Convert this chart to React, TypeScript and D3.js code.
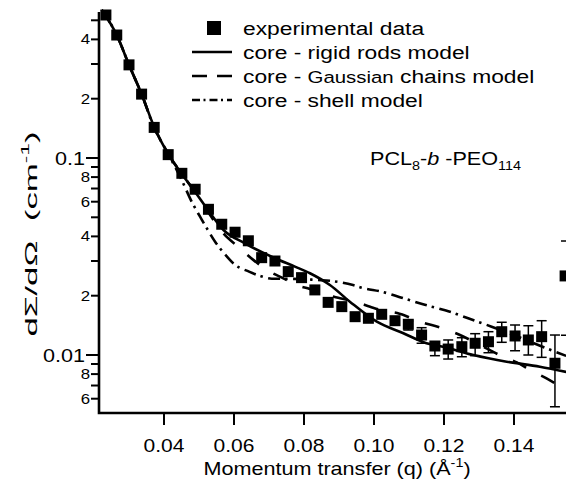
import React from "react";
import * as d3 from "d3";

// ---------- data ----------
const qData = [
  0.0234, 0.0265, 0.03, 0.0336, 0.0372, 0.0412, 0.0451, 0.0489, 0.0527, 0.0565,
  0.0603, 0.0641, 0.0679, 0.0717, 0.0755, 0.0793, 0.0831, 0.0869, 0.0908, 0.0946,
  0.0984, 0.1022, 0.106, 0.1098, 0.1136, 0.1174, 0.1212, 0.1251, 0.1289, 0.1327,
  0.1365, 0.1403, 0.1441, 0.1479, 0.1517,
];
const iData = [
  0.532, 0.421, 0.297, 0.211, 0.143, 0.104, 0.0836, 0.0694, 0.0549, 0.0461,
  0.042, 0.038, 0.0312, 0.03, 0.0265, 0.0247, 0.0214, 0.0185, 0.0176, 0.01565,
  0.01536, 0.01609, 0.01493, 0.01432, 0.01263, 0.01111, 0.01072, 0.01102, 0.01147, 0.01168,
  0.01313, 0.01249, 0.01192, 0.01239, 0.00908,
];
const errLow: (number | null)[] = [
  null, null, null, null, null, null, null, null, null, null,
  null, null, null, null, null, null, null, null, null, null,
  null, null, null, 0.01339, 0.01147, 0.00992, 0.00954, 0.0098, 0.00992, 0.01027,
  0.0116, 0.01051, 0.01, 0.00973, 0.00546,
];
const errHigh: (number | null)[] = [
  null, null, null, null, null, null, null, null, null, null,
  null, null, null, null, null, null, null, null, null, null,
  null, null, null, 0.01488, 0.01376, 0.0116, 0.01192, 0.01224, 0.01283, 0.01313,
  0.01466, 0.0142, 0.01408, 0.01493, 0.01263,
];

const rodsQ = [
  0.0222, 0.0265, 0.03, 0.0336, 0.0372, 0.0412, 0.0451, 0.0489, 0.0526, 0.057,
  0.0631, 0.0717, 0.0774, 0.0817, 0.0874, 0.0931, 0.1008, 0.1084, 0.115, 0.1197,
  0.1284, 0.1379, 0.1474, 0.1549,
];
const rodsI = [
  0.564, 0.421, 0.297, 0.211, 0.1437, 0.1048, 0.0829, 0.0672, 0.0544, 0.0431,
  0.0369, 0.031, 0.0281, 0.026, 0.02266, 0.01865, 0.01476, 0.01289, 0.01147, 0.011,
  0.01, 0.00925, 0.00872, 0.0082,
];

const gaussQ = [
  0.0222, 0.0265, 0.03, 0.0336, 0.0372, 0.0412, 0.0451, 0.0489, 0.0526, 0.0566,
  0.0617, 0.0655, 0.0703, 0.0741, 0.0779, 0.0817, 0.0865, 0.0903, 0.0951, 0.0989,
  0.1031, 0.1066, 0.1131, 0.1203, 0.1241, 0.1303, 0.1369, 0.1408, 0.1455, 0.1493,
  0.1549,
];
const gaussI = [
  0.564, 0.421, 0.297, 0.211, 0.1437, 0.1048, 0.0829, 0.0672, 0.0532, 0.0421,
  0.0348, 0.0304, 0.02648, 0.02451, 0.02266, 0.02163, 0.02016, 0.01941, 0.01851, 0.01758,
  0.01672, 0.01634, 0.01476, 0.01355, 0.01274, 0.01124, 0.0098, 0.00918, 0.00822, 0.00761,
  0.00657,
];

const shellQ = [
  0.0222, 0.0265, 0.03, 0.0336, 0.0372, 0.0409, 0.0446, 0.0484, 0.0503, 0.0524,
  0.0546, 0.0572, 0.0603, 0.0643, 0.0674, 0.0708, 0.0789, 0.0836, 0.0879, 0.094,
  0.0969, 0.1022, 0.1079, 0.114, 0.1217, 0.1269, 0.1336, 0.1417, 0.1493, 0.1549,
];
const shellI = [
  0.564, 0.421, 0.297, 0.211, 0.142, 0.1073, 0.0804, 0.0577, 0.0504, 0.0435,
  0.0376, 0.0328, 0.0287, 0.0265, 0.0252, 0.0244, 0.0243, 0.02403, 0.02375, 0.02266,
  0.02188, 0.02096, 0.01954, 0.01809, 0.01658, 0.01536, 0.01392, 0.01227, 0.01081, 0.0099,
];

// fragments of the neighbouring (cut-off) panel at the right edge
const neighbourQ = [0.1546];
const neighbourI = [0.0252];
const neighbourTicks = [0.0379, 0.0126];

const xTicks = [0.04, 0.06, 0.08, 0.1, 0.12, 0.14];
const xTickLabels = ["0.04", "0.06", "0.08", "0.10", "0.12", "0.14"];
const yMajorTicks = [0.1, 0.01];
const yMajorLabels = ["0.1", "0.01"];
const yLabeledMinor = [0.4, 0.2, 0.08, 0.06, 0.04, 0.02, 0.008, 0.006];
const yLabeledMinorText = ["4", "2", "8", "6", "4", "2", "8", "6"];
const yMinorTicks = [0.5, 0.3, 0.09, 0.07, 0.05, 0.03, 0.009, 0.007];

// ---------- layout ----------
const W = 566;
const H = 480;
const LEFT = 99;
const TOP = 12;
const BOTTOM = 413;
const RIGHT = 566;
const SX = 1.2;
const FONT = "'Liberation Sans', Arial, Helvetica, sans-serif";

export default function App() {
  const x = d3.scaleLinear().domain([0.04, 0.14]).range([164, 514]);
  const y = d3.scaleLog().domain([0.01, 0.1]).range([355, 158]);

  const mk = (qs: number[], is: number[]) =>
    d3
      .line<number>()
      .x((_, k) => x(qs[k]))
      .y((_, k) => y(is[k]))
      .curve(d3.curveMonotoneX)(qs) || "";

  const rodsPath = mk(rodsQ, rodsI);
  const gaussPath = mk(gaussQ, gaussI);
  const shellPath = mk(shellQ, shellI);

  const sq = 11;
  const legendY = [28, 52, 76, 100];

  return (
    <svg
      width={W}
      height={H}
      style={{ position: "absolute", left: 0, top: 0, background: "#fff" }}
      fontFamily={FONT}
    >
      <defs>
        <clipPath id="plotclip">
          <rect x={LEFT} y={4} width={RIGHT - LEFT} height={BOTTOM - 4} />
        </clipPath>
      </defs>

      {/* curves */}
      <g clipPath="url(#plotclip)" fill="none" stroke="#000" strokeWidth={2.6}>
        <path d={shellPath} strokeDasharray="12 5 2.5 5.5" />
        <path d={gaussPath} strokeDasharray="15 17" />
        <path d={rodsPath} />
      </g>

      {/* error bars */}
      <g stroke="#000" strokeWidth={1.5}>
        {qData.map((q, k) => {
          const lo = errLow[k];
          const hi = errHigh[k];
          if (lo == null || hi == null) return null;
          const cx = x(q);
          return (
            <g key={"e" + k}>
              <line x1={cx} x2={cx} y1={y(lo)} y2={y(hi)} />
              <line x1={cx - 5} x2={cx + 5} y1={y(lo)} y2={y(lo)} />
              <line x1={cx - 5} x2={cx + 5} y1={y(hi)} y2={y(hi)} />
            </g>
          );
        })}
      </g>

      {/* data squares */}
      <g fill="#000">
        {qData.map((q, k) => (
          <rect key={"p" + k} x={x(q) - sq / 2} y={y(iData[k]) - sq / 2} width={sq} height={sq} />
        ))}
        {neighbourQ.map((q, k) => (
          <rect key={"n" + k} x={x(q) - sq / 2} y={y(neighbourI[k]) - sq / 2} width={sq} height={sq} />
        ))}
      </g>
      <g stroke="#000" strokeWidth={1.5}>
        {neighbourTicks.map((t, k) => (
          <line key={"nt" + k} x1={RIGHT - 5} x2={RIGHT} y1={y(t)} y2={y(t)} />
        ))}
      </g>

      {/* axes */}
      <path
        d={`M${LEFT},${TOP} V${BOTTOM} H${RIGHT}`}
        fill="none"
        stroke="#000"
        strokeWidth={2.6}
      />
      <g stroke="#000" strokeWidth={2}>
        {xTicks.map((t, k) => (
          <line key={"xt" + k} x1={x(t)} x2={x(t)} y1={BOTTOM} y2={BOTTOM + 12} />
        ))}
        {yMajorTicks.map((t, k) => (
          <line key={"ym" + k} x1={LEFT - 13} x2={LEFT} y1={y(t)} y2={y(t)} />
        ))}
        {yLabeledMinor.map((t, k) => (
          <line key={"yl" + k} x1={LEFT - 8} x2={LEFT} y1={y(t)} y2={y(t)} />
        ))}
        {yMinorTicks.map((t, k) => (
          <line key={"yn" + k} x1={LEFT - 8} x2={LEFT} y1={y(t)} y2={y(t)} />
        ))}
      </g>

      {/* tick labels */}
      <g fill="#000">
        {xTicks.map((t, k) => (
          <text
            key={"xl" + k}
            transform={`translate(${x(t)},${452}) scale(${SX},1)`}
            textAnchor="middle"
            fontSize={17.5}
          >
            {xTickLabels[k]}
          </text>
        ))}
        {yMajorTicks.map((t, k) => (
          <text
            key={"yml" + k}
            transform={`translate(${LEFT - 14},${y(t) + 6.5}) scale(${SX},1)`}
            textAnchor="end"
            fontSize={18}
          >
            {yMajorLabels[k]}
          </text>
        ))}
        {yLabeledMinor.map((t, k) => (
          <text
            key={"yll" + k}
            transform={`translate(${LEFT - 9},${y(t) + 5}) scale(${SX},1)`}
            textAnchor="end"
            fontSize={14}
          >
            {yLabeledMinorText[k]}
          </text>
        ))}
      </g>

      {/* axis titles */}
      <text
        transform={`translate(337,475) scale(${SX},1)`}
        textAnchor="middle"
        fontSize={18}
        fill="#000"
      >
        Momentum transfer (q) (Å
        <tspan fontSize={12} dy={-8}>-1</tspan>
        <tspan dy={8}>)</tspan>
      </text>
      <text
        transform="translate(37,234) rotate(-90) scale(2.05,1)"
        textAnchor="middle"
        fontSize={17}
        fill="#000"
        style={{ whiteSpace: "pre" }}
      >
        {"dΣ/dΩ  (cm"}
        <tspan fontSize={11} dy={-8}>-1</tspan>
        <tspan dy={8}>)</tspan>
      </text>

      {/* legend */}
      <g>
        <rect x={214 - 7} y={legendY[0] - 7} width={14} height={14} fill="#000" />
        <line x1={192} x2={232} y1={legendY[1]} y2={legendY[1]} stroke="#000" strokeWidth={2.6} />
        <line
          x1={192}
          x2={232}
          y1={legendY[2]}
          y2={legendY[2]}
          stroke="#000"
          strokeWidth={2.6}
          strokeDasharray="15 10"
        />
        <line
          x1={192}
          x2={232}
          y1={legendY[3]}
          y2={legendY[3]}
          stroke="#000"
          strokeWidth={2.6}
          strokeDasharray="8 3.5 2 4"
        />
        <g fill="#000" fontSize={19}>
          <text transform={`translate(243,${legendY[0] + 7}) scale(${SX},1)`}>experimental data</text>
          <text transform={`translate(243,${legendY[1] + 7}) scale(${SX},1)`}>core - rigid rods model</text>
          <text transform={`translate(243,${legendY[2] + 7}) scale(${SX},1)`}>
            {"core - "}
            <tspan fontSize={17}>Gaussian</tspan>
            {" chains model"}
          </text>
          <text transform={`translate(243,${legendY[3] + 7}) scale(${SX},1)`}>core - shell model</text>
        </g>
      </g>

      {/* sample annotation */}
      <text transform={`translate(370,165) scale(${SX},1)`} fontSize={18} fill="#000">
        PCL
        <tspan fontSize={12} dy={5}>8</tspan>
        <tspan dy={-5}>-</tspan>
        <tspan fontStyle="italic">b</tspan>
        <tspan>{"\u00a0-PEO"}</tspan>
        <tspan fontSize={12} dy={5}>114</tspan>
      </text>
    </svg>
  );
}
